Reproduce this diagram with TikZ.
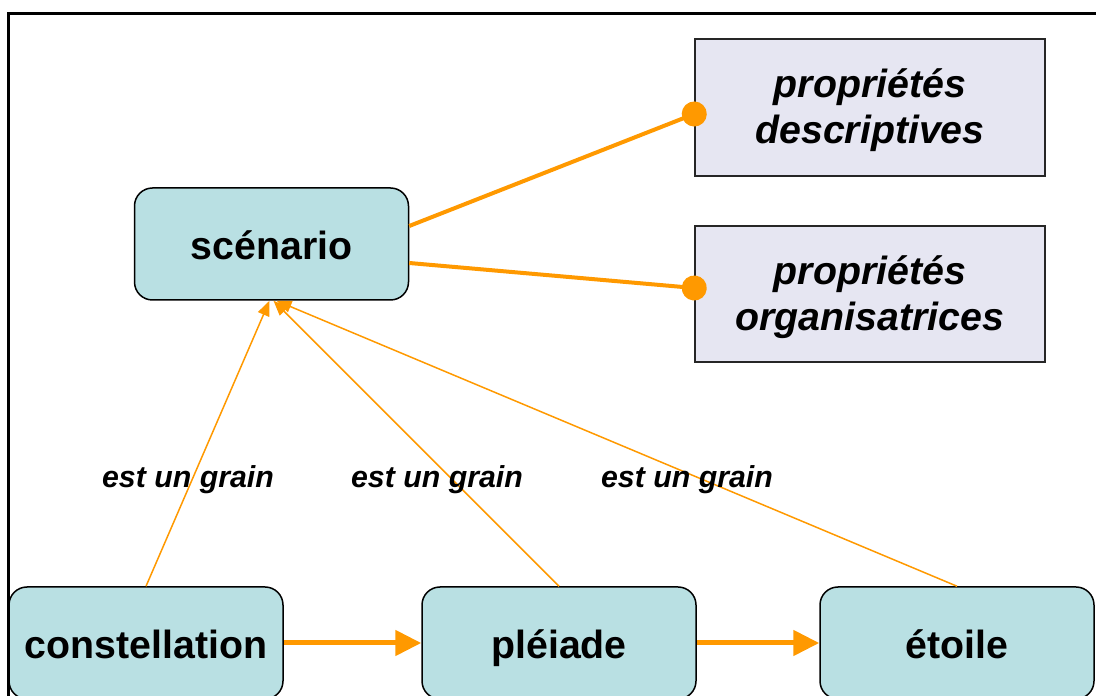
\documentclass[tikz,border=0pt]{standalone}
\usepackage{fontspec}
\setmainfont{Liberation Sans}
\usepackage{tikz}
\usetikzlibrary{arrows.meta}

\definecolor{boxteal}{RGB}{185,224,227}
\definecolor{boxlilac}{RGB}{230,230,242}
\definecolor{linkorange}{RGB}{255,153,0}

\begin{document}
\begin{tikzpicture}[
		x=1pt, y=1pt,
		BoxStyle/.style={draw, line width=1.5pt, fill=boxteal, rounded corners=18pt,
			minimum width=274pt, minimum height=112pt, inner sep=0pt,
			font=\fontsize{39.3}{47}\selectfont\bfseries,
			text height=35pt, text depth=3pt},
		PropStyle/.style={draw=black!85, line width=1.5pt, fill=boxlilac,
			minimum width=350pt, minimum height=137pt, inner sep=0pt, align=center,
			font=\fontsize{39.3}{46}\selectfont\bfseries\itshape},
		LabelStyle/.style={font=\fontsize{30.3}{36}\selectfont\bfseries\itshape, anchor=base},
		GrainArrow/.style={draw=linkorange, line width=1.5pt,
			-{Triangle[length=15pt,width=12pt]}},
		NextArrow/.style={draw=linkorange, line width=5pt,
			-{Triangle[length=26pt,width=25pt]}},
		PropLine/.style={draw=linkorange, line width=4pt,
			-{Circle[length=25pt]}, shorten >=-12.5pt},
		]
		\useasboundingbox (0,0) rectangle (1096,696);
		\clip (0,0) rectangle (1096,696);
		\draw [line width=2.7pt] (8.7,682.3) rectangle (1200,-100);
		
		\node [BoxStyle] (scen) at (271.5,452) {scénario};
		\node [PropStyle] (desc) at (870,588.5) {\rule{0pt}{35pt}propriétés\\descriptives};
		\node [PropStyle, minimum height=136pt] (orga) at (870,402) {\rule{0pt}{35pt}propriétés\\organisatrices};
		\node [BoxStyle] (const) at (146,53) {constellation};
		\node [BoxStyle] (plei) at (559,53) {pléiade};
		\node [BoxStyle] (etoi) at (957,53) {étoile};
		
		\draw [PropLine] ([yshift=18pt]scen.east) -- ([yshift=-6.5pt]desc.west);
		\draw [PropLine] ([yshift=-19pt]scen.east) -- ([yshift=6pt]orga.west);
		
		\draw [GrainArrow] (const.north) -- ([xshift=-2pt]scen.south);
		\draw [GrainArrow] (plei.north) -- ([xshift=2pt]scen.south);
		\draw [GrainArrow] (etoi.north) -- ([xshift=5pt]scen.south);
		\node [LabelStyle] (g1) at (188,208) {est un grain};
		\node [LabelStyle] (g2) at (437,208) {est un grain};
		\node [LabelStyle] (g3) at (687,208) {est un grain};
		
		\draw [NextArrow] (const) -- (plei);
		\draw [NextArrow] (plei) -- (etoi);
		
		\end{tikzpicture}
\end{document}
